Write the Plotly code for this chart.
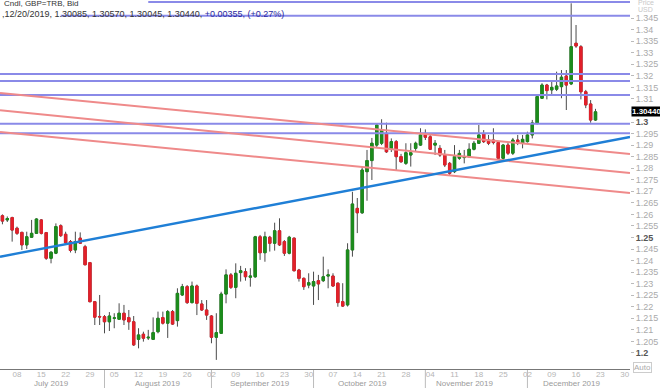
import plotly.graph_objects as go
import pandas as pd

# ---------------- data ----------------
dates = pd.bdate_range("2019-07-03", "2019-12-20")

opens = [1.2594, 1.2576, 1.2586,
         1.2540, 1.2522, 1.2468, 1.2501, 1.2518, 1.2576, 1.2521, 1.2410, 1.2432, 1.2551,
         1.2514, 1.2482, 1.2446, 1.2497, 1.2460, 1.2391, 1.2222, 1.2158, 1.2157, 1.2135,
         1.2150, 1.2146, 1.2172, 1.2153, 1.2135, 1.2059, 1.2081, 1.2065, 1.2059, 1.2092,
         1.2153, 1.2129, 1.2179, 1.2140, 1.2251, 1.2287, 1.2218, 1.2290, 1.2212, 1.2186,
         1.2160, 1.2068, 1.2085, 1.2255, 1.2338, 1.2284, 1.2348, 1.2352, 1.2328, 1.2330,
         1.2503, 1.2434, 1.2501, 1.2475, 1.2529, 1.2482, 1.2432, 1.2497, 1.2359, 1.2323,
         1.2294, 1.2290, 1.2313, 1.2313, 1.2333, 1.2333, 1.2302, 1.2222, 1.2208, 1.2446,
         1.2626, 1.2607, 1.2785, 1.2833, 1.2900, 1.2908, 1.2951, 1.2886, 1.2915, 1.2850,
         1.2821, 1.2857, 1.2886, 1.2900, 1.2944, 1.2936, 1.2900, 1.2886, 1.2857, 1.2821,
         1.2785, 1.2843, 1.2846, 1.2850, 1.2882, 1.2908, 1.2948, 1.2922, 1.2922, 1.2911,
         1.2843, 1.2900, 1.2865, 1.2922, 1.2908, 1.2915, 1.2944, 1.2994, 1.3103, 1.3160,
         1.3139, 1.3142, 1.3153, 1.3199, 1.3165, 1.3341, 1.3326, 1.3131, 1.3078, 1.30085]
highs = [1.2600, 1.2591, 1.2590,
         1.2547, 1.2525, 1.2525, 1.2576, 1.2583, 1.2580, 1.2524, 1.2441, 1.2561, 1.2557,
         1.2525, 1.2489, 1.2525, 1.2522, 1.2468, 1.2394, 1.2225, 1.2251, 1.2164, 1.2177,
         1.2172, 1.2215, 1.2208, 1.2186, 1.2160, 1.2107, 1.2092, 1.2100, 1.2154, 1.2179,
         1.2179, 1.2186, 1.2186, 1.2280, 1.2299, 1.2294, 1.2309, 1.2296, 1.2229, 1.2229,
         1.2164, 1.2172, 1.2265, 1.2362, 1.2346, 1.2388, 1.2377, 1.2367, 1.2367, 1.2507,
         1.2511, 1.2525, 1.2507, 1.2564, 1.2583, 1.2489, 1.2507, 1.2500, 1.2364, 1.2327,
         1.2345, 1.2352, 1.2338, 1.2417, 1.2362, 1.2345, 1.2305, 1.2302, 1.2475, 1.2698,
         1.2671, 1.2805, 1.2879, 1.2931, 1.2991, 1.3012, 1.2997, 1.2929, 1.2922, 1.2862,
         1.2908, 1.2908, 1.2915, 1.2973, 1.2968, 1.2944, 1.2922, 1.2900, 1.2879, 1.2827,
         1.2900, 1.2879, 1.2879, 1.2908, 1.2918, 1.2987, 1.2965, 1.2944, 1.2973, 1.2918,
         1.2905, 1.2909, 1.2931, 1.2944, 1.2944, 1.2958, 1.3009, 1.3117, 1.3168, 1.3165,
         1.3175, 1.3218, 1.3225, 1.3225, 1.3514, 1.3420, 1.3333, 1.3139, 1.3095, 1.30570]
lows = [1.2557, 1.2567, 1.2482,
        1.2511, 1.2446, 1.2450, 1.2498, 1.2515, 1.2513, 1.2403, 1.2388, 1.2428, 1.2502,
        1.2474, 1.2435, 1.2432, 1.2472, 1.2379, 1.2219, 1.2121, 1.2121, 1.2085, 1.2095,
        1.2107, 1.2143, 1.2121, 1.2100, 1.2030, 1.2020, 1.2049, 1.2056, 1.2056, 1.2085,
        1.2123, 1.2065, 1.2121, 1.2114, 1.2247, 1.2212, 1.2214, 1.2164, 1.2182, 1.2143,
        1.2042, 1.1970, 1.2082, 1.2215, 1.2277, 1.2237, 1.2309, 1.2313, 1.2287, 1.2325,
        1.2403, 1.2395, 1.2439, 1.2443, 1.2463, 1.2420, 1.2427, 1.2353, 1.2309, 1.2273,
        1.2280, 1.2208, 1.2229, 1.2307, 1.2280, 1.2286, 1.2200, 1.2199, 1.2201, 1.2417,
        1.2519, 1.2602, 1.2659, 1.2749, 1.2892, 1.2900, 1.2866, 1.2870, 1.2792, 1.2823,
        1.2814, 1.2807, 1.2870, 1.2896, 1.2922, 1.2879, 1.2857, 1.2849, 1.2805, 1.2771,
        1.2779, 1.2836, 1.2821, 1.2844, 1.2877, 1.2905, 1.2909, 1.2900, 1.2903, 1.2840,
        1.2836, 1.2857, 1.2857, 1.2900, 1.2886, 1.2911, 1.2929, 1.2989, 1.3100, 1.3098,
        1.3117, 1.3134, 1.3103, 1.3052, 1.3160, 1.3321, 1.3098, 1.3060, 1.2997, 1.30045]
closes = [1.2571, 1.2582, 1.2532,
          1.2518, 1.2468, 1.2503, 1.2518, 1.2580, 1.2518, 1.2410, 1.2436, 1.2547, 1.2508,
          1.2477, 1.2444, 1.2482, 1.2475, 1.2382, 1.2222, 1.2155, 1.2156, 1.2135, 1.2160,
          1.2152, 1.2172, 1.2143, 1.2135, 1.2035, 1.2078, 1.2064, 1.2068, 1.2088, 1.2150,
          1.2129, 1.2179, 1.2125, 1.2258, 1.2287, 1.2218, 1.2290, 1.2215, 1.2186, 1.2164,
          1.2068, 1.2088, 1.2255, 1.2338, 1.2284, 1.2345, 1.2356, 1.2330, 1.2333, 1.2503,
          1.2434, 1.2503, 1.2475, 1.2529, 1.2468, 1.2432, 1.2501, 1.2356, 1.2323, 1.2287,
          1.2304, 1.2309, 1.2299, 1.2330, 1.2338, 1.2290, 1.2218, 1.2203, 1.2446, 1.2645,
          1.2607, 1.2792, 1.2833, 1.2908, 1.2987, 1.2965, 1.2871, 1.2915, 1.2850, 1.2828,
          1.2867, 1.2867, 1.2908, 1.2944, 1.2934, 1.2882, 1.2908, 1.2857, 1.2814, 1.2778,
          1.2850, 1.2864, 1.2849, 1.2882, 1.2908, 1.2944, 1.2915, 1.2908, 1.2911, 1.2843,
          1.2900, 1.2865, 1.2922, 1.2908, 1.2925, 1.2944, 1.2996, 1.3110, 1.3160, 1.3136,
          1.3150, 1.3156, 1.3194, 1.3160, 1.3326, 1.3329, 1.3131, 1.3074, 1.30085, 1.30440]

# horizontal levels (price, start date)
hline_prices = [1.3520, 1.3460, 1.3208, 1.3178, 1.3117, 1.2992, 1.2951]
hline_starts = ["2019-08-14", "2019-07-19", "2019-07-01", "2019-07-01",
                "2019-07-01", "2019-07-01", "2019-07-01"]

# sloping trend lines: (start date, start price, end date, end price)
red_lines = [("2019-07-02 12:00", 1.3126, "2019-12-31 02:24", 1.2862),
             ("2019-07-02 12:00", 1.3051, "2019-12-31 02:24", 1.2779),
             ("2019-07-02 12:00", 1.2957, "2019-12-31 02:24", 1.2693)]
blue_line = ("2019-07-02 12:00", 1.2417, "2019-12-31 02:24", 1.2935)

x_range = ["2019-07-02 12:00", "2019-12-31 02:24"]
y_range = [1.19305, 1.35283]

week_ticks = pd.date_range("2019-07-08", "2019-12-30", freq="7D")
month_labels = ["July 2019", "August 2019", "September 2019",
                "October 2019", "November 2019", "December 2019"]
month_label_dates = ["2019-07-17", "2019-08-16", "2019-09-16",
                     "2019-10-15", "2019-11-13", "2019-12-13"]
month_starts = ["2019-08-01", "2019-09-02", "2019-10-01", "2019-11-01", "2019-12-02"]

y_ticks = [round(1.2 + 0.005 * k, 3) for k in range(30)]

# ---------------- style ----------------
GREEN = "#1c8c1c"
RED = "#e3202a"
WICK = "#4a4a4a"
PURPLE = "#8a8ae8"
SALMON = "#ef8a8a"
BLUE = "#1f7fd6"
FONT = "Liberation Sans Narrow, Arial Narrow, sans-serif"

fig = go.Figure()

# wicks (full candles, dark lines)
fig.add_trace(go.Candlestick(
    x=dates, open=opens, high=highs, low=lows, close=closes,
    increasing=dict(line=dict(color=WICK, width=1), fillcolor=GREEN),
    decreasing=dict(line=dict(color=WICK, width=1), fillcolor=RED),
    whiskerwidth=0, hoverinfo="skip", showlegend=False))
# bodies
body_hi = [max(o, c) for o, c in zip(opens, closes)]
body_lo = [min(o, c) for o, c in zip(opens, closes)]
fig.add_trace(go.Candlestick(
    x=dates, open=opens, high=body_hi, low=body_lo, close=closes,
    increasing=dict(line=dict(color=GREEN, width=1), fillcolor=GREEN),
    decreasing=dict(line=dict(color=RED, width=1), fillcolor=RED),
    whiskerwidth=0, hoverinfo="skip", showlegend=False))

for p, s in zip(hline_prices, hline_starts):
    fig.add_trace(go.Scatter(x=[s, x_range[1]], y=[p, p], mode="lines",
                             line=dict(color=PURPLE, width=2), hoverinfo="skip",
                             showlegend=False))
for x0, y0, x1, y1 in red_lines:
    fig.add_trace(go.Scatter(x=[x0, x1], y=[y0, y1], mode="lines",
                             line=dict(color=SALMON, width=2), hoverinfo="skip",
                             showlegend=False))
fig.add_trace(go.Scatter(x=[blue_line[0], blue_line[2]], y=[blue_line[1], blue_line[3]],
                         mode="lines", line=dict(color=BLUE, width=2.5),
                         hoverinfo="skip", showlegend=False))

last_close = closes[-1]

# y tick labels
def ylab(v):
    if abs(v - last_close) < 0.0035:
        return ""  # hidden behind the last-price box
    s = ("%.3f" % v).rstrip("0").rstrip(".")
    if round(v * 1000) % 50 == 0:
        return "<b><span style='color:#555'>%s</span></b>" % s
    return s

fig.update_layout(
    width=660, height=388,
    margin=dict(l=0, r=30, t=0, b=19),
    paper_bgcolor="white", plot_bgcolor="white",
    font=dict(family=FONT, size=9, color="#999"),
    showlegend=False,
    xaxis=dict(type="date", range=x_range,
               rangebreaks=[dict(bounds=["sat", "mon"])],
               rangeslider=dict(visible=False),
               tickvals=list(week_ticks),
               ticktext=[d.strftime("%d") for d in week_ticks],
               tickfont=dict(family=FONT, size=8, color="#b5b5b5"),
               ticklabelstandoff=-3,
               showgrid=False, zeroline=False, ticks="",
               showline=True, linecolor="#777", linewidth=1),
    yaxis=dict(side="right", range=y_range,
               tickvals=y_ticks, ticktext=[ylab(v) for v in y_ticks],
               tickfont=dict(family=FONT, size=9, color="#aaa"),
               ticks="outside", ticklen=3, tickcolor="#bbb",
               showgrid=False, zeroline=False, showline=False),
)

# month labels and separators
for lab, d in zip(month_labels, month_label_dates):
    fig.add_annotation(x=d, y=-15 / 369, xref="x", yref="paper", text=lab,
                       showarrow=False, font=dict(family=FONT, size=8, color="#9a9a9a"),
                       xanchor="center", yanchor="middle")
for d in month_starts:
    fig.add_shape(type="line", x0=d, x1=d, xref="x", yref="paper",
                  y0=-1 / 369, y1=-19 / 369, line=dict(color="#bbb", width=1))

# header
chg = closes[-1] - closes[-2]
pct = chg / closes[-2] * 100
hdr2 = ",%s, %.5f, %.5f, %.5f, %.5f, <span style='color:#2a2aa0'>%+.5f, (%+.2f%%)</span>" % (
    dates[-1].strftime("%m/%d/%Y"), opens[-1], highs[-1], lows[-1], closes[-1], chg, pct)
fig.add_annotation(x=0.003, y=1 - 4 / 369, xref="paper", yref="paper",
                   text="Cndl, GBP=TRB, Bid", showarrow=False,
                   font=dict(family=FONT, size=8, color="#333"),
                   xanchor="left", yanchor="middle")
fig.add_annotation(x=0.0, y=1 - 14 / 369, xref="paper", yref="paper",
                   text=hdr2, showarrow=False,
                   font=dict(family=FONT, size=9, color="#333"),
                   xanchor="left", yanchor="middle")

# right-side labels
fig.add_annotation(x=636 / 630, y=1 - 2 / 369, xref="paper", yref="paper", text="Price",
                   showarrow=False, font=dict(family=FONT, size=7, color="#c8c8c8"),
                   xanchor="left", yanchor="middle")
fig.add_annotation(x=636 / 630, y=1 - 9.5 / 369, xref="paper", yref="paper", text="USD",
                   showarrow=False, font=dict(family=FONT, size=7, color="#c8c8c8"),
                   xanchor="left", yanchor="middle")
fig.add_annotation(x=630.5 / 630, y=last_close, xref="paper", yref="y",
                   text="<b>%.5f</b>" % last_close, showarrow=False,
                   font=dict(family=FONT, size=8, color="white"),
                   bgcolor="black", borderpad=0, xanchor="left", yanchor="middle")
fig.add_annotation(x=633 / 630, y=(369 - 367) / 369, xref="paper", yref="paper",
                   text="Auto", showarrow=False,
                   font=dict(family=FONT, size=8, color="#aaa"),
                   bordercolor="#ccc", borderwidth=1, borderpad=0,
                   xanchor="left", yanchor="middle")

fig.write_html("out.html")
